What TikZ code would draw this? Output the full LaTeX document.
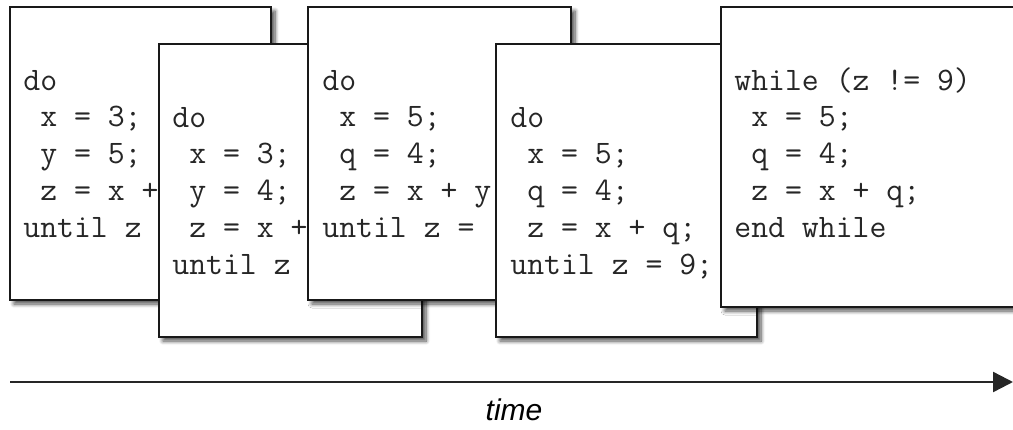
\documentclass[tikz,border=0pt]{standalone}
\usepackage{fontspec}
\setmainfont{Liberation Sans}
\usetikzlibrary{arrows.meta,shadows.blur}

\begin{document}
\begin{tikzpicture}[x=0.5pt,y=-0.5pt,
  card/.style={draw=black!90, line width=1.1pt, fill=white, anchor=north west,
    inner sep=0pt, outer sep=0pt,
    blur shadow={shadow xshift=2pt, shadow yshift=-2pt,
      shadow blur radius=2pt, shadow blur steps=8, shadow opacity=70}},
  % multi-line code nodes are anchored on the baseline of their last line
  code/.style={anchor=base west, inner sep=0pt, align=left,
    font=\ttfamily\fontsize{16.4}{18.35}\selectfont, text=black!85},
]
\clip (0,0) rectangle (1013,429);

% successive versions of the loop, each card laid over the previous one
\node[card, minimum width=130.5pt, minimum height=146.5pt] (c1) at (10,7) {};
\node[code] (t1) at (23,237) {do\\\ x = 3;\\\ y = 5;\\\ z = x +\\until z};

\node[card, minimum width=131.5pt, minimum height=146.5pt] (c2) at (159,44) {};
\node[code] (t2) at (172,274) {do\\\ x = 3;\\\ y = 4;\\\ z = x +\\until z};

\node[card, minimum width=131.5pt, minimum height=146.5pt] (c3) at (308,7) {};
\node[code] (t3) at (322,237) {do\\\ x = 5;\\\ q = 4;\\\ z = x + y\\until z =};

\node[card, minimum width=130.5pt, minimum height=146.5pt] (c4) at (496,44) {};
\node[code] (t4) at (510,274) {do\\\ x = 5;\\\ q = 4;\\\ z = x + q;\\until z = 9;};

\node[card, minimum width=160pt, minimum height=150pt] (c5) at (721,7) {};
\node[code] (t5) at (734,237) {while (z != 9)\\\ x = 5;\\\ q = 4;\\\ z = x + q;\\end while};

% time axis
\coordinate (ts) at (10,382);
\coordinate (te) at (1013,382);
\draw[line width=1.2pt, draw=black!85, -{Triangle[length=10pt,width=10pt]}] (ts) -- (te);
\node[anchor=base, inner sep=0pt, font=\itshape\fontsize{15}{18}\selectfont] (tl) at (514,420) {time};
\end{tikzpicture}
\end{document}
